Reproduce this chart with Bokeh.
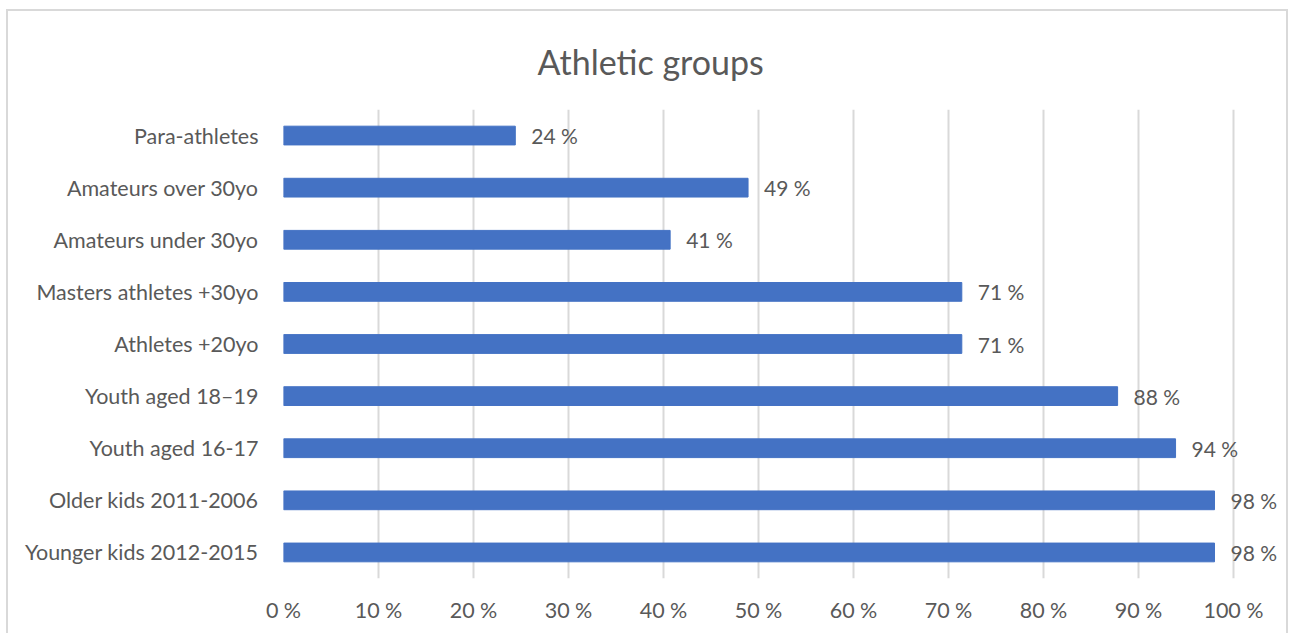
from bokeh.plotting import figure
from bokeh.models import FactorRange, Range1d, ColumnDataSource, LabelSet, FixedTicker
from bokeh.core.properties import value
from bokeh.embed import file_html
from bokeh.resources import INLINE

categories = ["Younger kids 2012-2015", "Older kids 2011-2006", "Youth aged 16-17",
              "Youth aged 18–19", "Athletes +20yo", "Masters athletes +30yo",
              "Amateurs under 30yo", "Amateurs over 30yo", "Para-athletes"]
values = [98.0, 98.0, 93.9, 87.8, 71.4, 71.4, 40.7, 48.9, 24.4]
value_labels = ["98 %", "98 %", "94 %", "88 %", "71 %", "71 %", "41 %", "49 %", "24 %"]
x_ticks = [0, 10, 20, 30, 40, 50, 60, 70, 80, 90, 100]
x_tick_labels = ["0 %", "10 %", "20 %", "30 %", "40 %", "50 %", "60 %", "70 %", "80 %", "90 %", "100 %"]

FONT = "Lato"
TXT = "#595959"

src = ColumnDataSource(dict(cat=categories, val=values, lab=value_labels))

p = figure(width=1282, height=624, y_range=FactorRange(*categories, range_padding=0),
           x_range=Range1d(0, 106), output_backend="svg", toolbar_location=None,
           min_border_left=275, min_border_top=97, min_border_right=0, min_border_bottom=57,
           margin=(9, 0, 0, 6))
p.styles = {"border": "2px solid #d9d9d9", "border-bottom": "none"}
p.outline_line_color = None

p.hbar(y="cat", left=0, right="val", height=0.36, source=src,
       fill_color="#4472C4", line_color="#4472C4")

labels = LabelSet(x="val", y="cat", text="lab", source=src, x_offset=16,
                  text_baseline="middle", text_font=value(FONT), text_font_size="21px",
                  text_color=TXT)
p.add_layout(labels)

p.title.text = "Athletic groups"
p.title.align = "left"
p.title.offset = 254
p.title.text_font = FONT
p.title.text_font_size = "34px"
p.title.text_font_style = "normal"
p.title.text_color = TXT
p.title.standoff = 55

p.ygrid.grid_line_color = None
p.xgrid.grid_line_color = "#d9d9d9"
p.xgrid.grid_line_width = 2
p.xaxis.ticker = FixedTicker(ticks=x_ticks)
p.xaxis.major_label_overrides = {t: l for t, l in zip(x_ticks, x_tick_labels)}

for ax in (p.xaxis, p.yaxis):
    ax.axis_line_color = None
    ax.major_tick_line_color = None
    ax.minor_tick_line_color = None
    ax.major_label_text_font = FONT
    ax.major_label_text_font_size = "21.5px"
    ax.major_label_text_color = TXT
p.yaxis.major_label_standoff = 19
p.xaxis.major_label_standoff = 12

open("out.html", "w").write(file_html(p, INLINE))
